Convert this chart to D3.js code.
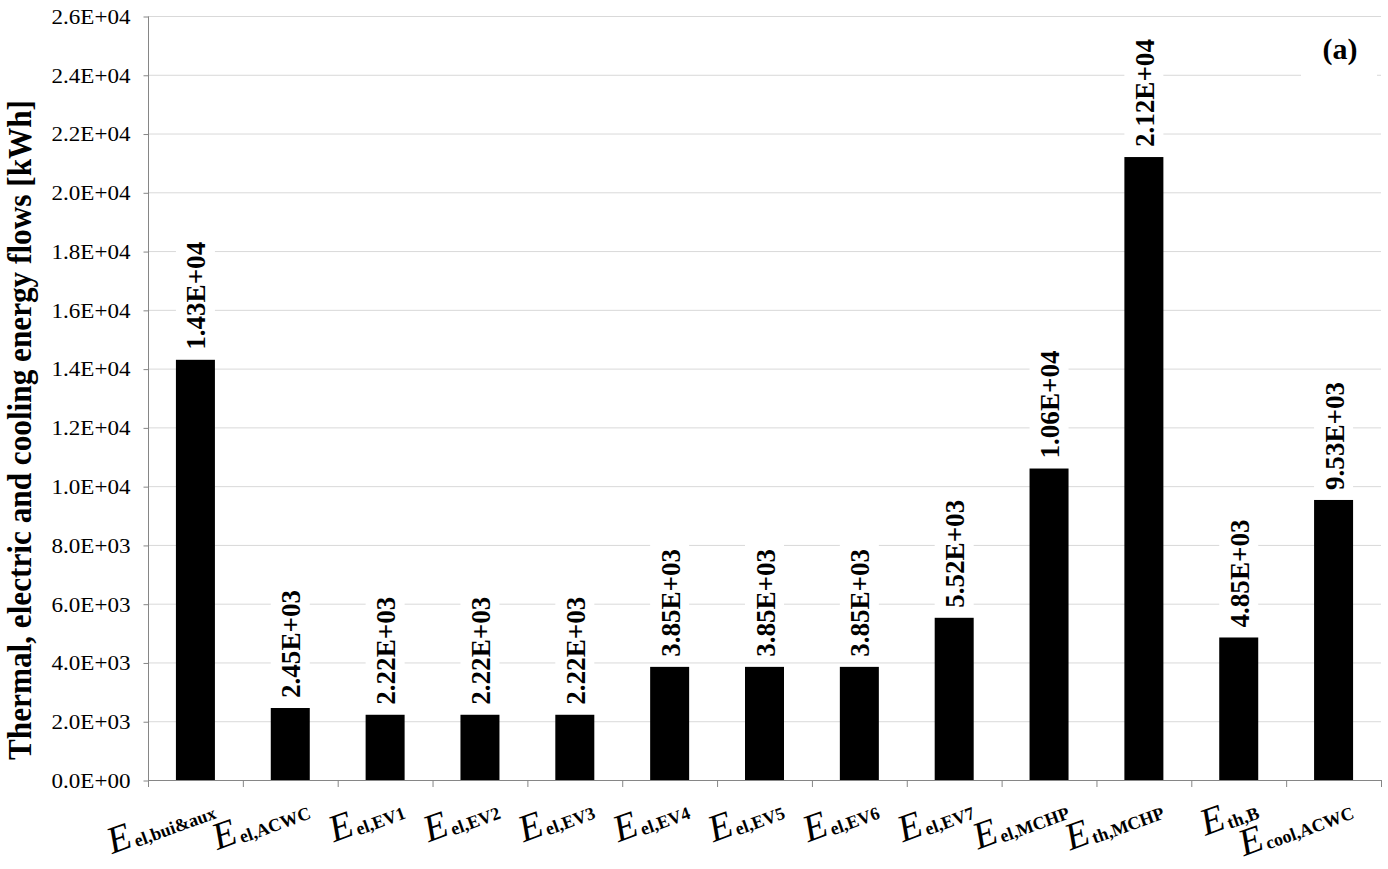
<!DOCTYPE html>
<html>
<head>
<meta charset="utf-8">
<script src="https://cdn.jsdelivr.net/npm/d3@7"></script>
<style>
  html, body { margin: 0; padding: 0; background: #fff; }
  svg { display: block; }
  text { font-family: "Liberation Serif", "Times New Roman", serif; }
</style>
</head>
<body>
<svg id="chart" width="1388" height="869"></svg>
<script>
// ---- data ----
const categoryMain = ["E","E","E","E","E","E","E","E","E","E","E","E","E"];
const categorySub = ["el,bui&aux","el,ACWC","el,EV1","el,EV2","el,EV3","el,EV4","el,EV5","el,EV6","el,EV7","el,MCHP","th,MCHP","th,B","cool,ACWC"];
const values = [14300, 2450, 2220, 2220, 2220, 3850, 3850, 3850, 5520, 10600, 21200, 4850, 9530];
const yTicks = [0, 2000, 4000, 6000, 8000, 10000, 12000, 14000, 16000, 18000, 20000, 22000, 24000, 26000];
const yTitle = "Thermal, electric and cooling energy flows [kWh]";
const panelLabel = "(a)";

// ---- layout ----
const svg = d3.select("#chart");
const L = 148, R = 1381, T = 16, B = 780;
const serif = "Liberation Serif, Times New Roman, serif";

const idx = d3.range(values.length);
const x = d3.scaleBand().domain(idx).range([L, R]).paddingInner(0).paddingOuter(0);
const y = d3.scaleLinear().domain([0, 26000]).range([B, T]);

function sci(v, d) {
  const s = v.toExponential(d);
  const [m, e] = s.split("e");
  const sign = e[0] === "-" ? "-" : "+";
  const n = Math.abs(parseInt(e, 10));
  return m + "E" + sign + (n < 10 ? "0" + n : "" + n);
}

// gridlines
svg.append("g")
  .selectAll("line")
  .data(yTicks.filter(t => t > 0))
  .join("line")
  .attr("x1", L).attr("x2", R)
  .attr("y1", d => y(d) + 0.5).attr("y2", d => y(d) + 0.5)
  .attr("stroke", "#d9d9d9").attr("stroke-width", 1);

// y axis
const yAxis = d3.axisLeft(y).tickValues(yTicks).tickSize(5).tickPadding(13).tickFormat(d => sci(d, 1));
const gy = svg.append("g").attr("transform", `translate(${L + 0.5},0.5)`).call(yAxis);
gy.attr("font-family", null).attr("font-size", null);
gy.select(".domain").attr("stroke", "#868686").attr("d", `M0,${T}V${B + 6}`);
gy.selectAll(".tick line").attr("stroke", "#868686");
gy.selectAll(".tick text")
  .style("font-family", serif).style("font-size", "20px")
  .attr("textLength", 79).attr("lengthAdjust", "spacingAndGlyphs")
  .attr("fill", "#000").attr("dy", "0.34em");

// x axis line + ticks at band boundaries
const gx = svg.append("g");
gx.append("line").attr("x1", L).attr("x2", R).attr("y1", B + 0.5).attr("y2", B + 0.5).attr("stroke", "#868686");
gx.selectAll("line.tk")
  .data(d3.range(values.length + 1))
  .join("line").attr("class", "tk")
  .attr("x1", i => (i < values.length ? x(i) : R) + 0.5)
  .attr("x2", i => (i < values.length ? x(i) : R) + 0.5)
  .attr("y1", B).attr("y2", B + 7)
  .attr("stroke", "#868686");

// bars
const bw = 39;
svg.append("g")
  .selectAll("rect")
  .data(values)
  .join("rect")
  .attr("x", (d, i) => x(i) + x.bandwidth() / 2 - bw / 2)
  .attr("width", bw)
  .attr("y", d => y(d))
  .attr("height", d => B - y(d))
  .attr("fill", "#000");

// value labels (rotated, white background)
const lblLen = 108;
const gl = svg.append("g");
values.forEach((v, i) => {
  const cx = x(i) + x.bandwidth() / 2;
  const yb = y(v) - 10;
  gl.append("rect")
    .attr("x", cx - bw / 2).attr("width", bw)
    .attr("y", yb - lblLen - 5).attr("height", lblLen + 9)
    .attr("fill", "#fff");
  gl.append("text")
    .attr("transform", `translate(${cx + 10},${yb}) rotate(-90)`)
    .style("font-family", serif).style("font-weight", "bold").style("font-size", "27px")
    .attr("textLength", lblLen).attr("lengthAdjust", "spacingAndGlyphs")
    .attr("fill", "#000")
    .text(sci(v, 2));
});

// x labels
const gxl = svg.append("g");
idx.forEach(i => {
  const cx = x(i) + x.bandwidth() / 2;
  const t = gxl.append("text")
    .attr("transform", `translate(${cx + 21},${816}) rotate(-20)`)
    .attr("text-anchor", "end")
    .style("font-family", serif).attr("fill", "#000");
  t.append("tspan").style("font-style", "italic").style("font-size", "38px").text(categoryMain[i]);
  t.append("tspan").style("font-size", "18px").style("font-weight", "bold").attr("dx", 2).attr("dy", 2).text(categorySub[i]);
});

// y title
svg.append("text")
  .attr("transform", `translate(${31},${430}) rotate(-90)`)
  .attr("text-anchor", "middle")
  .style("font-family", serif).style("font-weight", "bold").style("font-size", "33px")
  .attr("textLength", 660).attr("lengthAdjust", "spacingAndGlyphs")
  .attr("fill", "#000")
  .text(yTitle);

// panel label
svg.append("rect").attr("x", 1301).attr("y", 22).attr("width", 76).attr("height", 60).attr("fill", "#fff");
svg.append("text")
  .attr("x", 1340).attr("y", 59)
  .attr("text-anchor", "middle")
  .style("font-family", serif).style("font-weight", "bold").style("font-size", "30px")
  .attr("fill", "#000")
  .text(panelLabel);
</script>
</body>
</html>
